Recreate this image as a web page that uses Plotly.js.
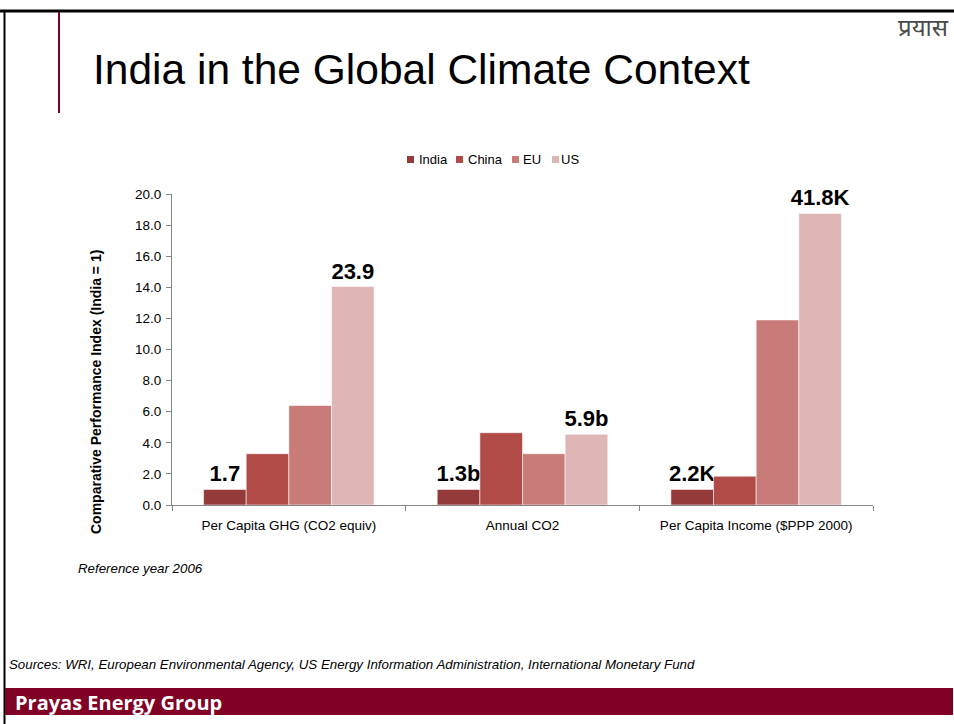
<!DOCTYPE html>
<html>
<head>
<meta charset="utf-8">
<script src="https://cdn.plot.ly/plotly-3.0.1.min.js"></script>
<style>
  html, body { margin: 0; padding: 0; background: #ffffff; }
  #chart { width: 954px; height: 724px; }
</style>
</head>
<body>
<div id="chart"></div>
<script>
// ---------- data ----------
const categories = ["Per Capita GHG (CO2 equiv)", "Annual CO2", "Per Capita Income ($PPP 2000)"];
const seriesNames = ["India", "China", "EU", "US"];
const indiaValues = [1.0, 1.0, 1.0];
const chinaValues = [3.3, 4.65, 1.85];
const euValues = [6.4, 3.3, 11.9];
const usValues = [14.05, 4.55, 18.75];
const indiaLabels = ["1.7", "1.3b", "2.2K"];
const usLabels = ["23.9", "5.9b", "41.8K"];
const yTickValues = [0, 2, 4, 6, 8, 10, 12, 14, 16, 18, 20];
const yTickLabels = ["0.0", "2.0", "4.0", "6.0", "8.0", "10.0", "12.0", "14.0", "16.0", "18.0", "20.0"];
const titleText = "India in the Global Climate Context";
const yAxisTitle = "Comparative Performance Index (India = 1)";
const noteText = "Reference year 2006";
const sourceText = "Sources: WRI, European Environmental Agency, US Energy Information Administration, International Monetary Fund";
const footerText = "Prayas Energy Group";
const logoText = "प्रयास";

// ---------- style ----------
const seriesColors = ["#953A3A", "#B14B48", "#C97B7A", "#DFB6B6"];
const maroon = "#800026";
const FONT = "Liberation Sans, Arial, sans-serif";

// plot area in pixels
const L = 172, R = 873, T = 194, B = 505;
const fx = x => (x - L) / (R - L);
const fy = y => (B - y) / (B - T);

const allValues = [indiaValues, chinaValues, euValues, usValues];
const allLabels = [indiaLabels, null, null, usLabels];

const traces = seriesNames.map((name, i) => {
  const t = {
    type: "bar",
    name: name,
    x: categories,
    y: allValues[i],
    marker: { color: seriesColors[i], line: { color: "rgba(255,255,255,0.7)", width: 0.8 } },
    showlegend: false,
    cliponaxis: false,
    hoverinfo: "x+y+name"
  };
  if (allLabels[i]) {
    t.text = allLabels[i];
    t.textposition = "outside";
    t.constraintext = "none";
    t.textfont = { family: FONT, size: 22, color: "#000000", weight: "bold" };
  }
  return t;
});

// ---------- decorations ----------
const shapes = [
  { type: "line", xref: "paper", yref: "paper", x0: fx(0), x1: fx(954), y0: fy(11), y1: fy(11),
    line: { color: "#000000", width: 3 } },
  { type: "line", xref: "paper", yref: "paper", x0: fx(4.5), x1: fx(4.5), y0: fy(10), y1: fy(724),
    line: { color: "#000000", width: 2 } },
  { type: "line", xref: "paper", yref: "paper", x0: fx(59), x1: fx(59), y0: fy(12), y1: fy(113),
    line: { color: maroon, width: 2 } },
  { type: "rect", xref: "paper", yref: "paper", x0: fx(5), x1: fx(953), y0: fy(715), y1: fy(688),
    fillcolor: maroon, line: { width: 0 } }
];

const annotations = [
  { xref: "paper", yref: "paper", x: fx(91), y: fy(69), xanchor: "left", yanchor: "middle",
    text: titleText, showarrow: false, font: { family: FONT, size: 42.5, color: "#000000" } },
  { xref: "paper", yref: "paper", x: fx(96), y: fy(392), xanchor: "center", yanchor: "middle",
    textangle: -90, text: "<b>" + yAxisTitle + "</b>", showarrow: false,
    font: { family: FONT, size: 14, color: "#000000" } },
  { xref: "paper", yref: "paper", x: fx(76), y: fy(568), xanchor: "left", yanchor: "middle",
    text: "<i>" + noteText + "</i>", showarrow: false, font: { family: FONT, size: 13.3, color: "#000000" } },
  { xref: "paper", yref: "paper", x: fx(7), y: fy(664), xanchor: "left", yanchor: "middle",
    text: "<i>" + sourceText + "</i>", showarrow: false, font: { family: FONT, size: 13.3, color: "#000000" } },
  { xref: "paper", yref: "paper", x: fx(13), y: fy(702), xanchor: "left", yanchor: "middle",
    text: "<b>" + footerText + "</b>", showarrow: false,
    font: { family: "Open Sans, sans-serif", size: 20, color: "#ffffff" } },
  { xref: "paper", yref: "paper", x: fx(951), y: fy(30), xanchor: "right", yanchor: "middle",
    text: logoText, showarrow: false,
    font: { family: "Noto Sans Devanagari, Lohit Devanagari, FreeSans, sans-serif", size: 24, color: "#4a4a4a" } }
];

// custom compact legend (squares + names)
const legendSquareX = [407, 456, 512, 552];
const legendTextX = [417, 466, 521, 559];
const legendY = 159.5;
seriesNames.forEach((name, i) => {
  shapes.push({ type: "rect", xref: "paper", yref: "paper",
    x0: fx(legendSquareX[i]), x1: fx(legendSquareX[i] + 7),
    y0: fy(legendY + 3.5), y1: fy(legendY - 3.5),
    fillcolor: seriesColors[i], line: { width: 0 } });
  annotations.push({ xref: "paper", yref: "paper", x: fx(legendTextX[i]), y: fy(legendY),
    xanchor: "left", yanchor: "middle", text: name, showarrow: false,
    font: { family: FONT, size: 13, color: "#000000" } });
});

const layout = {
  width: 954,
  height: 724,
  paper_bgcolor: "#ffffff",
  plot_bgcolor: "#ffffff",
  margin: { l: L, r: 954 - R, t: T, b: 724 - B, pad: 0, autoexpand: false },
  barmode: "group",
  bargap: 0.27,
  bargroupgap: 0,
  showlegend: false,
  font: { family: FONT, size: 12, color: "#000000" },
  xaxis: {
    type: "category",
    showline: true, linecolor: "#868686", linewidth: 1,
    ticks: "outside", tickson: "boundaries", ticklen: 5, tickcolor: "#868686",
    tickfont: { family: FONT, size: 13.5, color: "#000000" },
    showgrid: false, zeroline: false, automargin: false,
    ticklabelstandoff: 8
  },
  yaxis: {
    range: [0, 20],
    tickvals: yTickValues, ticktext: yTickLabels,
    showline: true, linecolor: "#868686", linewidth: 1,
    ticks: "outside", ticklen: 5, tickcolor: "#868686",
    tickfont: { family: FONT, size: 13.5, color: "#000000" },
    showgrid: false, zeroline: false, automargin: false,
    ticklabelstandoff: 2
  },
  shapes: shapes,
  annotations: annotations
};

Plotly.newPlot("chart", traces, layout, { displayModeBar: false, staticPlot: true });
</script>
</body>
</html>
